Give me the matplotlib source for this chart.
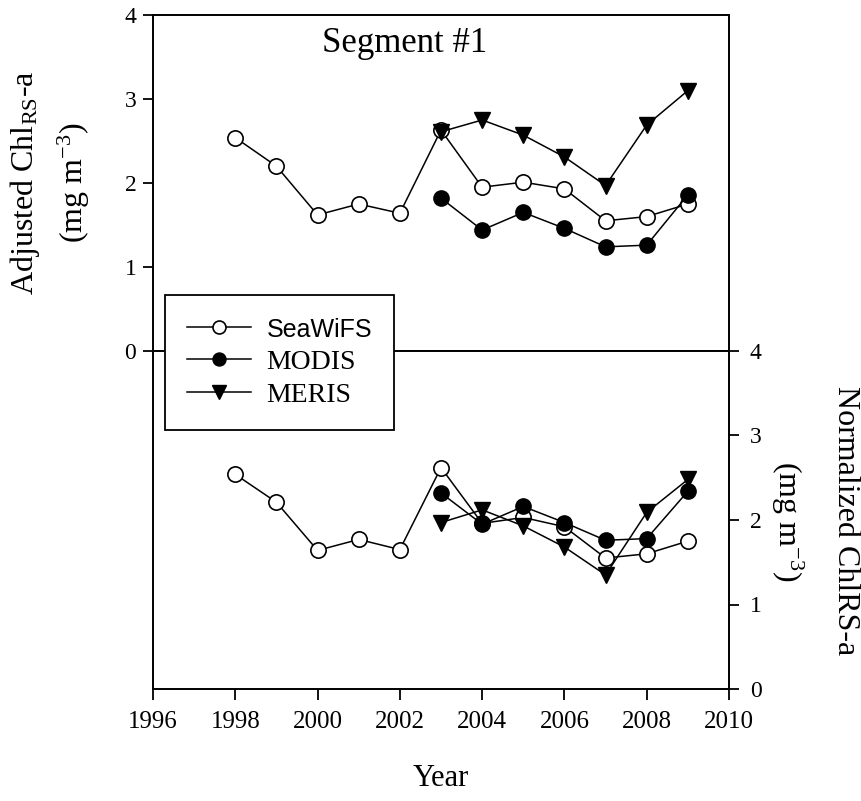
import matplotlib.pyplot as plt
from matplotlib.lines import Line2D
from matplotlib.font_manager import FontProperties

plt.rcParams['font.family'] = 'Liberation Serif'
plt.rcParams['mathtext.fontset'] = 'custom'
plt.rcParams['mathtext.rm'] = 'Liberation Serif'
plt.rcParams['mathtext.it'] = 'Liberation Serif:italic'

# data
years_sw = [1998, 1999, 2000, 2001, 2002, 2003, 2004, 2005, 2006, 2007, 2008, 2009]
years_sat = [2003, 2004, 2005, 2006, 2007, 2008, 2009]

# top panel: adjusted
sw_adj = [2.54, 2.20, 1.62, 1.75, 1.64, 2.63, 1.95, 2.01, 1.93, 1.55, 1.60, 1.75]
modis_adj = [1.82, 1.44, 1.65, 1.46, 1.24, 1.26, 1.86]
meris_adj = [2.61, 2.75, 2.57, 2.31, 1.97, 2.69, 3.10]

# bottom panel: normalized
sw_norm = [2.54, 2.21, 1.64, 1.77, 1.65, 2.62, 1.96, 2.03, 1.92, 1.55, 1.60, 1.75]
modis_norm = [2.32, 1.95, 2.16, 1.97, 1.76, 1.78, 2.34]
meris_norm = [1.97, 2.12, 1.93, 1.68, 1.35, 2.09, 2.48]

xticks = [1996, 1998, 2000, 2002, 2004, 2006, 2008, 2010]
yticks = [0, 1, 2, 3, 4]

W, H = 861, 801
fig = plt.figure(figsize=(W / 100, H / 100), dpi=100)
left, right = 153 / W, 729 / W
top, mid, bot = 1 - 15 / H, 1 - 351 / H, 1 - 689 / H
ax_top = fig.add_axes([left, mid, right - left, top - mid])
ax_bot = fig.add_axes([left, bot, right - left, mid - bot], sharex=ax_top)

lw = 1.1
ms = 11
sw_style = dict(color='black', lw=lw, marker='o', ms=ms, mfc='white', mec='black', mew=1.2)
mo_style = dict(color='black', lw=lw, marker='o', ms=ms, mfc='black', mec='black')
me_style = dict(color='black', lw=lw, marker='v', ms=ms + 1, mfc='black', mec='black')

ax_top.plot(years_sw, sw_adj, **sw_style)
ax_top.plot(years_sat, modis_adj, **mo_style)
ax_top.plot(years_sat, meris_adj, **me_style)

ax_bot.plot(years_sw, sw_norm, **sw_style)
ax_bot.plot(years_sat, modis_norm, **mo_style)
ax_bot.plot(years_sat, meris_norm, **me_style)

for ax in (ax_top, ax_bot):
    ax.set_xlim(1996, 2010)
    ax.set_ylim(0, 4)
    for s in ax.spines.values():
        s.set_linewidth(1.4)

# top panel: left ticks only
ax_top.set_yticks(yticks)
ax_top.tick_params(axis='y', left=True, right=False, labelleft=True, labelright=False,
                   direction='out', length=7, width=1.3, labelsize=17, pad=5)
ax_top.tick_params(axis='x', bottom=False, labelbottom=False)
ax_top.text(0.4375, 0.915, 'Segment #1', transform=ax_top.transAxes,
            ha='center', va='center', fontsize=25)

# bottom panel: right ticks and x axis
ax_bot.yaxis.tick_right()
ax_bot.set_yticks(yticks)
ax_bot.tick_params(axis='y', left=False, right=True, labelleft=False, labelright=True,
                   direction='out', length=7, width=1.3, labelsize=17, pad=8)
ax_bot.set_xticks(xticks)
ax_bot.tick_params(axis='x', direction='out', length=8, width=1.3, labelsize=18, pad=8)
ax_bot.set_xlabel('Year', fontsize=22, labelpad=22)

# axis titles, two lines each
fig.text(25 / W, 1 - 183 / H, 'Adjusted Chl$_{\\mathrm{RS}}$-a', rotation=90,
         ha='center', va='center', fontsize=23)
fig.text(74 / W, 1 - 183 / H, '(mg m$^{-3}$)', rotation=90,
         ha='center', va='center', fontsize=23)
fig.text(845 / W, 1 - 521 / H, 'Normalized ChlRS-a', rotation=-90,
         ha='center', va='center', fontsize=23)
fig.text(787 / W, 1 - 521 / H, '(mg m$^{-3}$)', rotation=-90,
         ha='center', va='center', fontsize=23)

handles = [Line2D([], [], **sw_style), Line2D([], [], **mo_style), Line2D([], [], **me_style)]
leg = fig.legend(handles, ['SeaWiFS', 'MODIS', 'MERIS'], loc='upper left',
                 bbox_to_anchor=(165 / W, 1 - 295 / H), bbox_transform=fig.transFigure,
                 borderaxespad=0, fancybox=False, edgecolor='black', framealpha=1,
                 prop=FontProperties(family='Liberation Serif', size=20),
                 handlelength=2.3, handletextpad=0.55, labelspacing=0.28,
                 borderpad=0.8, markerscale=0.85)
leg.get_frame().set_linewidth(1.3)
leg.get_texts()[0].set_fontproperties(FontProperties(family='Liberation Sans', size=18))

fig.savefig('out.png', dpi=100)
